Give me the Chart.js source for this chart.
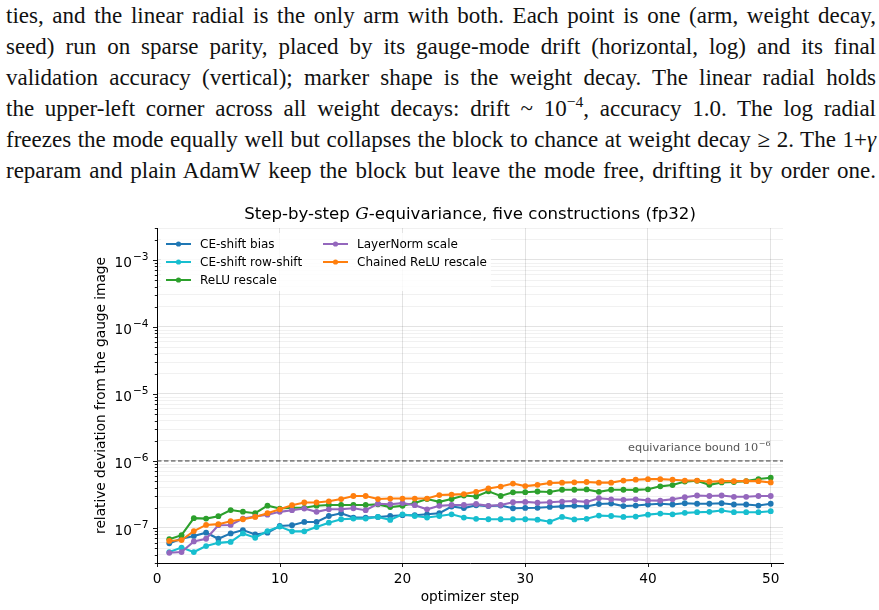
<!DOCTYPE html>
<html><head><meta charset="utf-8">
<script src="https://cdn.jsdelivr.net/npm/chart.js@4/dist/chart.umd.min.js"></script>
<style>
html,body{margin:0;padding:0;background:#fff;width:879px;height:610px;overflow:hidden;}
.ln{position:absolute;left:6px;width:870px;font-family:"Liberation Serif",serif;font-size:23px;line-height:31px;color:#111;text-align:justify;text-align-last:justify;}
sup{line-height:0;font-size:0.68em;}
#wrap{position:absolute;left:0;top:190px;width:879px;height:420px;}
</style></head><body>
<div class="ln" style="top:0px">ties, and the linear radial is the only arm with both. Each point is one (arm, weight decay,</div>
<div class="ln" style="top:31px">seed) run on sparse parity, placed by its gauge-mode drift (horizontal, log) and its final</div>
<div class="ln" style="top:62px">validation accuracy (vertical); marker shape is the weight decay. The linear radial holds</div>
<div class="ln" style="top:93px">the upper-left corner across all weight decays: drift ~ 10<sup>−4</sup>, accuracy 1.0. The log radial</div>
<div class="ln" style="top:124px">freezes the mode equally well but collapses the block to chance at weight decay ≥ 2. The 1+<i>γ</i></div>
<div class="ln" style="top:155px">reparam and plain AdamW keep the block but leave the mode free, drifting it by order one.</div>
<div id="wrap"><canvas id="c" width="879" height="420"></canvas></div>
<script>
const STEPS = [1,2,3,4,5,6,7,8,9,10,11,12,13,14,15,16,17,18,19,20,21,22,23,24,25,26,27,28,29,30,31,32,33,34,35,36,37,38,39,40,41,42,43,44,45,46,47,48,49,50];
const CE_SHIFT_BIAS = [5.9e-8,6.9e-8,7.6e-8,8.5e-8,6.9e-8,8.3e-8,9.3e-8,8.0e-8,8.5e-8,1.07e-7,
  1.1e-7,1.23e-7,1.23e-7,1.51e-7,1.66e-7,1.43e-7,1.43e-7,1.46e-7,1.51e-7,1.55e-7,
  1.55e-7,1.6e-7,1.66e-7,2.09e-7,1.98e-7,2.18e-7,2.12e-7,2.16e-7,1.97e-7,1.99e-7,
  2.0e-7,2.06e-7,2.1e-7,2.14e-7,2.09e-7,2.28e-7,2.32e-7,2.12e-7,2.16e-7,2.24e-7,
  2.3e-7,2.24e-7,2.34e-7,2.3e-7,2.3e-7,2.34e-7,2.24e-7,2.24e-7,2.16e-7,2.3e-7];
const CE_ROW_SHIFT = [4.37e-8,5.1e-8,4.37e-8,5.37e-8,6.0e-8,6.2e-8,8.3e-8,7.15e-8,9.0e-8,1.05e-7,
  8.9e-8,8.9e-8,1.03e-7,1.2e-7,1.35e-7,1.38e-7,1.38e-7,1.46e-7,1.32e-7,1.6e-7,
  1.51e-7,1.43e-7,1.51e-7,1.6e-7,1.43e-7,1.37e-7,1.35e-7,1.35e-7,1.35e-7,1.35e-7,
  1.33e-7,1.24e-7,1.46e-7,1.34e-7,1.37e-7,1.53e-7,1.51e-7,1.46e-7,1.48e-7,1.58e-7,
  1.64e-7,1.6e-7,1.68e-7,1.72e-7,1.74e-7,1.82e-7,1.72e-7,1.72e-7,1.72e-7,1.78e-7];
const RELU_RESCALE = [6.8e-8,7.8e-8,1.4e-7,1.38e-7,1.5e-7,1.85e-7,1.75e-7,1.66e-7,2.15e-7,1.95e-7,
  2.0e-7,2.0e-7,2.15e-7,2.2e-7,2.2e-7,2.2e-7,2.2e-7,2.25e-7,2.05e-7,2.14e-7,
  2.35e-7,2.7e-7,2.45e-7,2.7e-7,3.05e-7,2.95e-7,3.52e-7,3.0e-7,3.4e-7,3.42e-7,
  3.5e-7,3.44e-7,3.72e-7,3.72e-7,3.76e-7,3.46e-7,3.72e-7,3.72e-7,3.7e-7,3.78e-7,
  4.18e-7,4.37e-7,4.92e-7,5.06e-7,4.4e-7,4.78e-7,4.85e-7,5.0e-7,5.37e-7,5.62e-7];
const LAYERNORM_SCALE = [4.26e-8,4.37e-8,6.3e-8,6.9e-8,1.1e-7,1.11e-7,1.38e-7,1.48e-7,1.58e-7,1.74e-7,
  1.84e-7,1.95e-7,1.74e-7,1.9e-7,1.9e-7,1.97e-7,1.84e-7,2.3e-7,2.26e-7,2.35e-7,
  2.19e-7,1.9e-7,2.14e-7,2.2e-7,2.2e-7,2.28e-7,2.14e-7,2.2e-7,2.42e-7,2.45e-7,
  2.38e-7,2.42e-7,2.48e-7,2.52e-7,2.45e-7,2.78e-7,2.68e-7,2.63e-7,2.68e-7,2.58e-7,
  2.56e-7,2.68e-7,2.88e-7,3.05e-7,3.0e-7,3.05e-7,2.92e-7,2.92e-7,3.0e-7,3.0e-7];
const CHAINED_RELU = [6.4e-8,6.6e-8,9.0e-8,1.11e-7,1.14e-7,1.26e-7,1.35e-7,1.46e-7,1.66e-7,1.9e-7,
  2.19e-7,2.4e-7,2.4e-7,2.5e-7,2.7e-7,3.0e-7,3.0e-7,2.7e-7,2.75e-7,2.75e-7,
  2.75e-7,2.75e-7,3.1e-7,3.15e-7,3.2e-7,3.46e-7,3.88e-7,4.15e-7,4.6e-7,4.22e-7,
  4.4e-7,4.7e-7,4.75e-7,4.8e-7,4.85e-7,4.75e-7,4.75e-7,5.1e-7,5.25e-7,5.35e-7,
  5.35e-7,5.25e-7,5.1e-7,5.1e-7,4.9e-7,5.0e-7,5.0e-7,5.0e-7,5.0e-7,4.78e-7];

const SERIES = [CE_SHIFT_BIAS, CE_ROW_SHIFT, RELU_RESCALE, LAYERNORM_SCALE, CHAINED_RELU];
const SERIES_LABELS = ['CE-shift bias','CE-shift row-shift','ReLU rescale','LayerNorm scale','Chained ReLU rescale'];
const SERIES_COLORS = ['#1f77b4','#17becf','#2ca02c','#9467bd','#ff7f0e'];
const X_TICKS = [0,10,20,30,40,50];
const X_RANGE = [0, 51];
const Y_RANGE = [3e-8, 3e-3];
const Y_MAJOR_TICKS = [1e-7,1e-6,1e-5,1e-4,1e-3];
const Y_TICK_EXPONENTS = ['\u22127','\u22126','\u22125','\u22124','\u22123'];
const BOUND = 1e-6;
const TITLE_PARTS = ['Step-by-step ', 'G', '-equivariance, five constructions (fp32)'];
const X_TITLE = 'optimizer step';
const Y_TITLE = 'relative deviation from the gauge image';
const BOUND_TEXT = 'equivariance bound ';
const BOUND_EXP = ['10', '\u22126'];

const SANS = '"DejaVu Sans", sans-serif';
const SERIF = '"DejaVu Serif", serif';
const FS = 13.7;

function yTickValues(){
  const out = [];
  for (let e = -8; e <= -3; e++) {
    for (let m = 1; m <= 9; m++) {
      const v = m * Math.pow(10, e);
      if (v >= Y_RANGE[0]*0.999 && v <= Y_RANGE[1]*1.001) out.push(v);
    }
  }
  return out;
}
function majorIndex(v){
  for (let i = 0; i < Y_MAJOR_TICKS.length; i++) if (Math.abs(v / Y_MAJOR_TICKS[i] - 1) < 1e-6) return i;
  return -1;
}

const datasets = SERIES.map((vals, i) => ({
  label: SERIES_LABELS[i],
  data: STEPS.map((s, j) => ({x: s, y: vals[j]})),
  borderColor: SERIES_COLORS[i],
  backgroundColor: SERIES_COLORS[i],
  borderWidth: 2.1,
  pointRadius: 2.9,
  pointBorderWidth: 0,
  pointHoverRadius: 2.9,
  tension: 0,
  order: 10 - i
}));
datasets.push({
  label: '', isBound: true,
  data: X_RANGE.map(x => ({x: x, y: BOUND})),
  borderColor: '#3a3a3a', borderWidth: 1, borderDash: [4.5, 2.5],
  pointRadius: 0, pointHoverRadius: 0, order: 0
});

const tickMarks = {
  id: 'tickMarks',
  afterDraw(chart){
    const ctx = chart.ctx, ys = chart.scales.y, xs = chart.scales.x, ca = chart.chartArea;
    ctx.save();
    ctx.strokeStyle = '#000'; ctx.lineWidth = 0.9;
    ys.ticks.forEach(t => {
      const py = Math.round(ys.getPixelForValue(t.value)) + 0.5;
      const k = majorIndex(t.value);
      const len = k >= 0 ? 4 : 2.2;
      ctx.beginPath(); ctx.moveTo(ca.left - len, py); ctx.lineTo(ca.left, py); ctx.stroke();
      if (k >= 0) {
        ctx.fillStyle = '#000';
        ctx.textBaseline = 'alphabetic';
        const fe = '10.6px ' + SANS;
        ctx.font = FS + 'px ' + SANS;
        const wb = ctx.measureText('10').width;
        ctx.font = fe;
        const we = ctx.measureText(Y_TICK_EXPONENTS[k]).width;
        const xr = ca.left - 8.5;
        const base = py + 6.2;
        ctx.font = FS + 'px ' + SANS;
        ctx.fillText('10', xr - we - wb - 1, base);
        ctx.font = fe;
        ctx.fillText(Y_TICK_EXPONENTS[k], xr - we, base - 6.3);
      }
    });
    xs.ticks.forEach(t => {
      const px = Math.round(xs.getPixelForValue(t.value)) + 0.5;
      ctx.beginPath(); ctx.moveTo(px, ca.bottom); ctx.lineTo(px, ca.bottom + 4); ctx.stroke();
    });
    ctx.restore();
  }
};

const titlePlugin = {
  id: 'titleMath',
  afterDraw(chart){
    const ctx = chart.ctx, ca = chart.chartArea;
    const fonts = ['16.6px ' + SANS, 'italic 17px ' + SERIF, '16.6px ' + SANS];
    ctx.save();
    let w = 0;
    const ws = TITLE_PARTS.map((p, i) => { ctx.font = fonts[i]; const m = ctx.measureText(p).width; w += m; return m; });
    let x = (ca.left + ca.right) / 2 - w / 2;
    ctx.fillStyle = '#000'; ctx.textBaseline = 'alphabetic';
    TITLE_PARTS.forEach((p, i) => { ctx.font = fonts[i]; ctx.fillText(p, x, 29); x += ws[i]; });
    ctx.restore();
  }
};

const boundLabel = {
  id: 'boundLabel',
  afterDraw(chart){
    const ctx = chart.ctx, ys = chart.scales.y;
    const yb = ys.getPixelForValue(BOUND) - 10;
    ctx.save();
    ctx.fillStyle = '#555'; ctx.textBaseline = 'alphabetic';
    const f1 = '11.3px ' + SANS, f2 = '11.3px ' + SERIF, f3 = '8px ' + SERIF;
    ctx.font = f1; const w1 = ctx.measureText(BOUND_TEXT).width;
    ctx.font = f2; const w2 = ctx.measureText(BOUND_EXP[0]).width;
    ctx.font = f3; const w3 = ctx.measureText(BOUND_EXP[1]).width;
    let x = 770 - (w1 + w2 + w3);
    ctx.font = f1; ctx.fillText(BOUND_TEXT, x, yb); x += w1;
    ctx.font = f2; ctx.fillText(BOUND_EXP[0], x, yb); x += w2;
    ctx.font = f3; ctx.fillText(BOUND_EXP[1], x + 0.5, yb - 5);
    ctx.restore();
  }
};

const legendPlugin = {
  id: 'colLegend',
  afterDraw(chart){
    const ctx = chart.ctx, ca = chart.chartArea;
    const items = chart.data.datasets.filter(d => !d.isBound);
    ctx.save();
    ctx.fillStyle = 'rgba(255,255,255,0.8)';
    ctx.fillRect(ca.left + 4, ca.top + 5, 330, 58);
    const rows = 3;
    items.forEach((d, i) => {
      const col = Math.floor(i / rows), row = i % rows;
      const hx = ca.left + 9 + col * 157;
      const hy = ca.top + 16 + row * 18;
      ctx.strokeStyle = d.borderColor; ctx.lineWidth = 2;
      ctx.beginPath(); ctx.moveTo(hx, hy); ctx.lineTo(hx + 25, hy); ctx.stroke();
      ctx.fillStyle = d.borderColor;
      ctx.beginPath(); ctx.arc(hx + 12.5, hy, 2.6, 0, Math.PI * 2); ctx.fill();
      ctx.fillStyle = '#000'; ctx.font = '12px ' + SANS; ctx.textBaseline = 'middle';
      ctx.fillText(d.label, hx + 34, hy + 0.5);
    });
    ctx.restore();
  }
};

new Chart(document.getElementById('c'), {
  type: 'line',
  data: { datasets: datasets },
  options: {
    responsive: false,
    animation: false,
    events: [],
    layout: { padding: { left: 0, right: 96, top: 38, bottom: 0 } },
    plugins: { legend: { display: false }, title: { display: false }, tooltip: { enabled: false } },
    scales: {
      x: {
        type: 'linear', min: X_RANGE[0], max: X_RANGE[1],
        afterBuildTicks(scale){ scale.ticks = X_TICKS.map(v => ({value: v})); },
        afterFit(scale){ scale.height = 47; },
        grid: { color: 'rgba(0,0,0,0.11)', lineWidth: 1, drawTicks: false },
        border: { display: true, color: '#000', width: 1 },
        ticks: { color: '#000', font: { family: SANS, size: FS }, padding: 8, autoSkip: false, maxRotation: 0 },
        title: { display: true, text: X_TITLE, color: '#000', font: { family: SANS, size: FS }, padding: { top: 0, bottom: 4.5 } }
      },
      y: {
        type: 'logarithmic', min: Y_RANGE[0], max: Y_RANGE[1],
        afterBuildTicks(scale){ scale.ticks = yTickValues().map(v => ({value: v})); },
        afterFit(scale){ scale.width = 157; },
        grid: {
          color: c => majorIndex(c.tick.value) >= 0 ? 'rgba(0,0,0,0.11)' : 'rgba(0,0,0,0.055)',
          lineWidth: 1, drawTicks: false
        },
        border: { display: true, color: '#000', width: 1 },
        ticks: { display: false, autoSkip: false },
        title: { display: true, text: Y_TITLE, color: '#000', font: { family: SANS, size: FS }, padding: { top: 93.5, bottom: 0 } }
      }
    }
  },
  plugins: [tickMarks, titlePlugin, boundLabel, legendPlugin]
});
</script>
</body></html>
